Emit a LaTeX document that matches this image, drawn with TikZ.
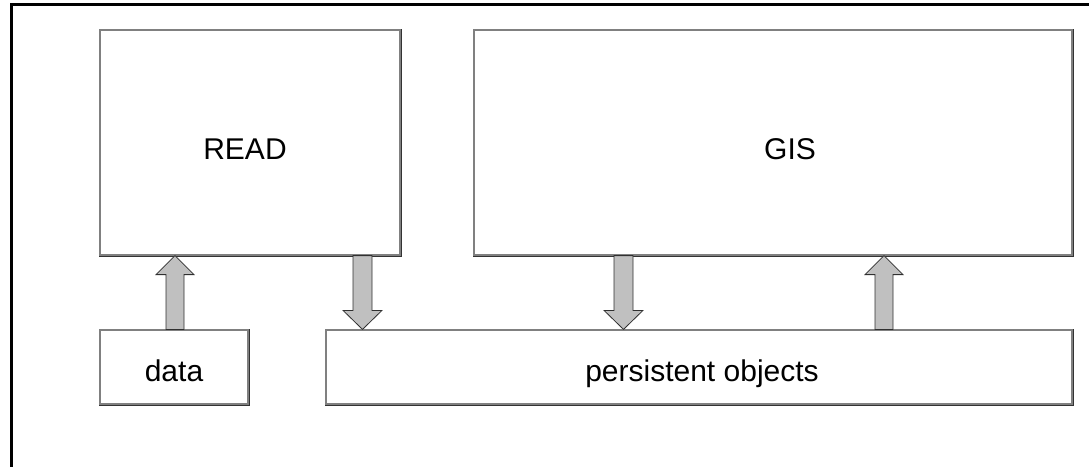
\documentclass[tikz,border=0pt]{standalone}
\usepackage{fontspec}
\setmainfont{Liberation Sans}
\usetikzlibrary{calc}
\definecolor{boxline}{HTML}{808080}
\definecolor{arrowfill}{HTML}{C0C0C0}
\definecolor{arrowline}{HTML}{303030}
\tikzset{
  frameline/.style={line width=3pt,black},
  block/.style={draw=boxline,line width=1.2pt,rectangle,inner sep=0pt},
  blockshade/.style={draw=black!80,line width=0.8pt},
  label text/.style={font=\fontsize{30}{34}\selectfont,anchor=base,inner sep=0pt},
  fatarrow/.style={fill=arrowfill,draw=arrowline,line width=0.8pt,line join=miter}
}
% block arrow pointing upwards, from the top of #1 to the bottom of #2, at x of #1
\newcommand\uparrowblock[2]{%
  \path[fatarrow] let \p1=(#1), \p2=(#2) in
    (\x1-9pt,\y1) -- (\x1-9pt,\y2-19pt) -- (\x1-19pt,\y2-19pt) -- (\x1,\y2)
    -- (\x1+19pt,\y2-19pt) -- (\x1+9pt,\y2-19pt) -- (\x1+9pt,\y1) -- cycle;}
% block arrow pointing downwards, from #1 down to #2, at x of #1
\newcommand\downarrowblock[2]{%
  \path[fatarrow] let \p1=(#1), \p2=(#2) in
    (\x1-9.5pt,\y1) -- (\x1-9.5pt,\y2+19pt) -- (\x1-19.5pt,\y2+19pt) -- (\x1,\y2)
    -- (\x1+19.5pt,\y2+19pt) -- (\x1+9.5pt,\y2+19pt) -- (\x1+9.5pt,\y1) -- cycle;}
\begin{document}
\begin{tikzpicture}[x=1pt,y=-1pt]
  \useasboundingbox (0,0) rectangle (1089,467);
  % frame: top and left edges only
  \draw[frameline] (1089,4) -- (11.5,4) -- (11.5,467);

  % boxes
  \node[block,minimum width=300pt,minimum height=225pt] (read) at (250,142.5) {};
  \node[block,minimum width=598pt,minimum height=225pt] (gis) at (773,142.5) {};
  \node[block,minimum width=148pt,minimum height=74pt] (data) at (174,367) {};
  \node[block,minimum width=746pt,minimum height=74pt] (pobj) at (699,367) {};
  \foreach \b in {read,gis,data,pobj}{
    \draw[blockshade] ($(\b.north east)+(0.8,0)$) -- ($(\b.south east)+(0.8,0.8)$) -- ($(\b.south west)+(0,0.8)$);
  }

  % labels
  \node[label text] (readlbl) at (245,159) {READ};
  \node[label text] (gislbl) at (790,159) {GIS};
  \node[label text] (datalbl) at (174,381) {data};
  \node[label text] (pobjlbl) at (702,381) {persistent objects};

  % connection points
  \coordinate (a1s) at (data.north -| 175,0);
  \coordinate (a1e) at (read.south -| 175,0);
  \coordinate (a2s) at (read.south -| 362.5,0);
  \coordinate (a2e) at (pobj.north -| 362.5,0);
  \coordinate (a3s) at (gis.south -| 623.5,0);
  \coordinate (a3e) at (pobj.north -| 623.5,0);
  \coordinate (a4s) at (pobj.north -| 884,0);
  \coordinate (a4e) at (gis.south -| 884,0);

  % block arrows
  \uparrowblock{a1s}{a1e}
  \downarrowblock{a2s}{a2e}
  \downarrowblock{a3s}{a3e}
  \uparrowblock{a4s}{a4e}
\end{tikzpicture}
\end{document}
